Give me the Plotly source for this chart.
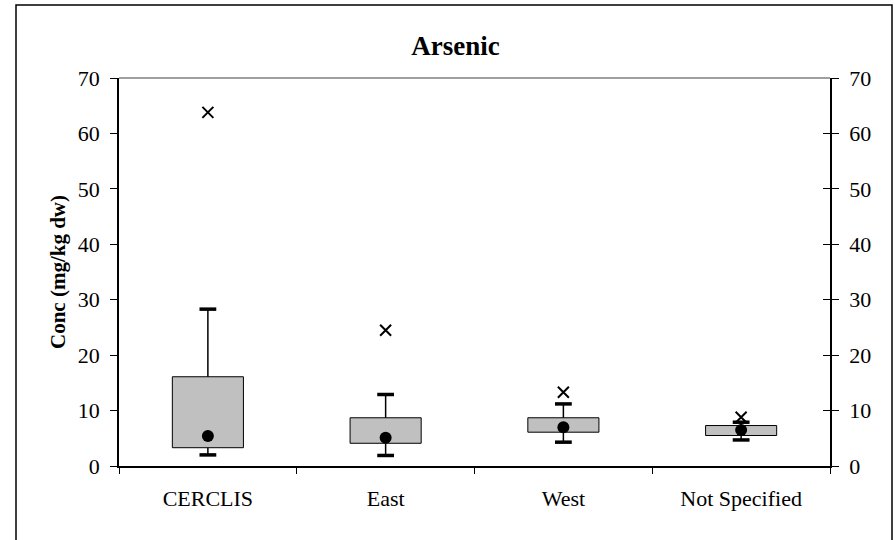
import plotly.graph_objects as go

categories = ["CERCLIS", "East", "West", "Not Specified"]
q1 = [3.3, 4.1, 6.1, 5.5]
q3 = [16.1, 8.7, 8.7, 7.3]
whisker_low = [2.0, 1.9, 4.3, 4.7]
whisker_high = [28.3, 12.9, 11.2, 7.9]
median = [5.4, 5.1, 7.0, 6.5]
maximum = [63.8, 24.5, 13.3, 8.8]
y_ticks = [0, 10, 20, 30, 40, 50, 60, 70]

FONT = "Liberation Serif, Times New Roman, serif"

fig = go.Figure()

# boxes (q1 -> q3)
fig.add_trace(go.Bar(
    x=categories, y=[b - a for a, b in zip(q1, q3)], base=q1, width=0.4,
    marker=dict(color="#C0C0C0", line=dict(color="black", width=1)),
    showlegend=False, hoverinfo="skip"))

# whisker lines
wx, wy = [], []
for c, lo, a, b, hi in zip(categories, whisker_low, q1, q3, whisker_high):
    wx += [c, c, None, c, c, None]
    wy += [b, hi, None, lo, a, None]
fig.add_trace(go.Scatter(x=wx, y=wy, mode="lines",
                         line=dict(color="black", width=1.5),
                         showlegend=False, hoverinfo="skip"))
# whisker caps
fig.add_trace(go.Scatter(
    x=categories + categories, y=whisker_high + whisker_low, mode="markers",
    marker=dict(symbol="line-ew", size=12, line=dict(color="black", width=3.5)),
    showlegend=False, hoverinfo="skip"))
# median dots
fig.add_trace(go.Scatter(
    x=categories, y=median, mode="markers",
    marker=dict(symbol="circle", size=12, color="black"),
    showlegend=False, hoverinfo="skip"))
# maxima
fig.add_trace(go.Scatter(
    x=categories, y=maximum, mode="markers",
    marker=dict(symbol="x-thin", size=11, line=dict(color="black", width=2)),
    showlegend=False, hoverinfo="skip"))
# dummy traces for the right axes
fig.add_trace(go.Scatter(x=categories, y=[None]*4, yaxis="y2", showlegend=False, hoverinfo="skip"))
fig.add_trace(go.Scatter(x=categories, y=[None]*4, yaxis="y3", showlegend=False, hoverinfo="skip"))

axis_font = dict(family=FONT, size=22, color="black")

fig.update_layout(
    width=895, height=540,
    margin=dict(l=119, r=65, t=78, b=74),
    plot_bgcolor="white", paper_bgcolor="white",
    title=dict(text="<b>Arsenic</b>", x=455.5 / 895, xref="container", y=1 - 46 / 540,
               yref="container", xanchor="center", yanchor="middle",
               font=dict(family=FONT, size=27, color="black")),
    xaxis=dict(type="category", range=[-0.5, 3.5], tickson="boundaries",
               ticks="outside", ticklen=6, tickcolor="black", tickwidth=1,
               showline=True, linecolor="black", linewidth=1.5,
               showgrid=False, tickfont=axis_font, ticklabelstandoff=12),
    yaxis=dict(range=[0, 70], tickvals=y_ticks, ticks="outside", ticklen=7,
               tickcolor="black", showline=True, linecolor="black", linewidth=1.5,
               showgrid=False, zeroline=False, tickfont=axis_font,
               ticklabelstandoff=6),
    yaxis2=dict(range=[0, 70], tickvals=y_ticks, overlaying="y", side="right",
                ticks="outside", ticklen=7, tickcolor="black", showline=True,
                linecolor="black", linewidth=1.5, showgrid=False, zeroline=False,
                tickfont=axis_font, ticklabelstandoff=6),
    yaxis3=dict(range=[0, 70], tickvals=y_ticks, overlaying="y", side="right",
                ticks="inside", ticklen=7, tickcolor="black", showline=False,
                showticklabels=False, showgrid=False, zeroline=False),
    annotations=[dict(text="<b>Conc (mg/kg dw)</b>", textangle=-90,
                      xref="paper", yref="paper", x=(58 - 119) / 711, y=0.5,
                      xanchor="center", yanchor="middle", showarrow=False,
                      font=dict(family=FONT, size=21, color="black"))],
    shapes=[
        dict(type="line", xref="paper", yref="paper", x0=0, x1=1, y0=1, y1=1,
             line=dict(color="#808080", width=1.5)),
        dict(type="rect", xref="paper", yref="paper",
             x0=(16 - 119) / 711, x1=(892 - 119) / 711,
             y0=-0.3, y1=(466 - 5) / 388,
             line=dict(color="black", width=1.5), layer="below"),
    ],
)

fig.write_html("out.html", config={"displayModeBar": False},
               post_script="document.body.style.margin='0px';document.body.style.overflow='hidden';")
